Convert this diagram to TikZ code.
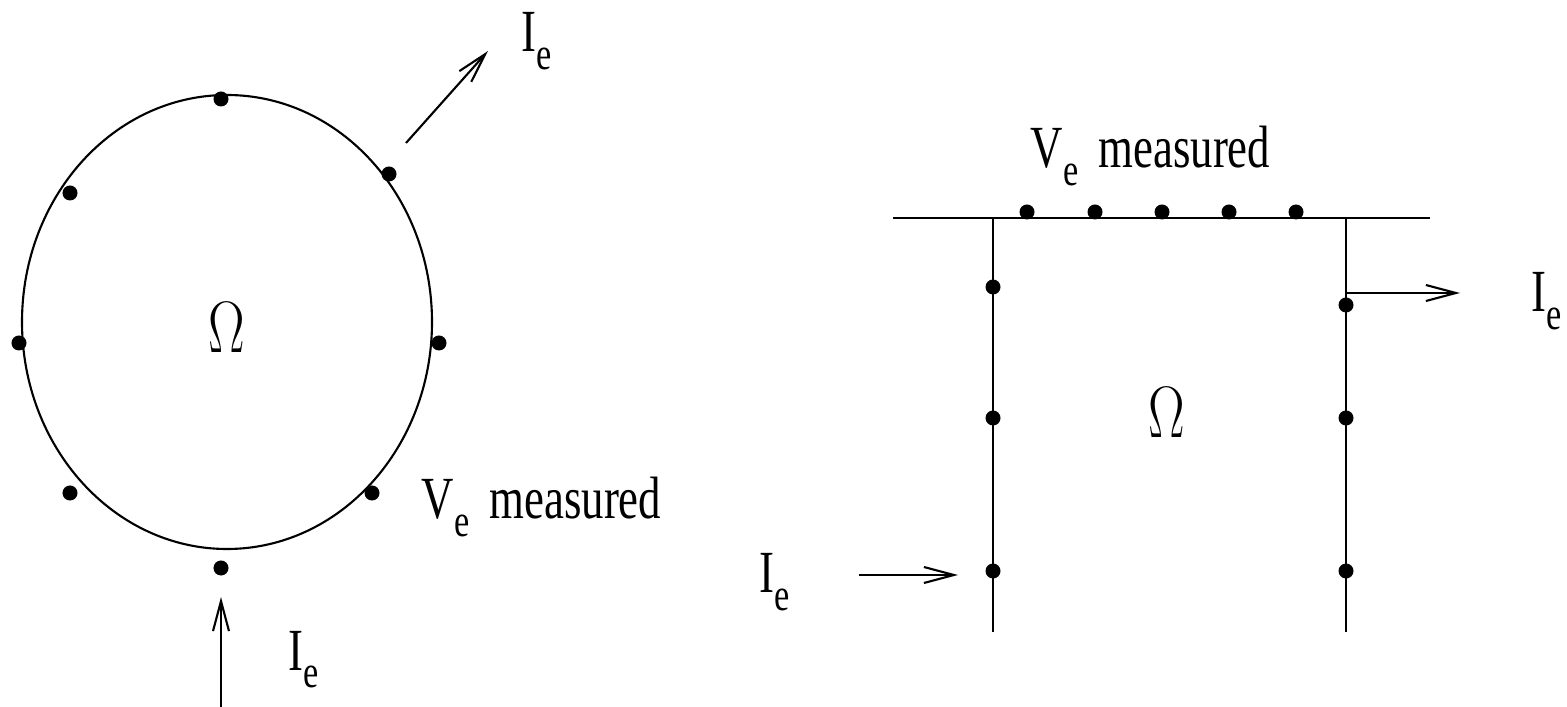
\documentclass[tikz,border=0pt]{standalone}
\usepackage{fontspec}
\setmainfont{Liberation Serif}
\usepackage{tikz}
\usetikzlibrary{positioning, arrows.meta}
\tikzset{
  elec/.style={circle, fill=black, inner sep=0pt, minimum size=0.15cm},
  wire/.style={line width=0.6pt},
  arr/.style={-{Straight Barb[length=0.3cm, width=0.16cm]}, line width=0.6pt},
  lbl/.style={anchor=base west, inner sep=0pt, font=\fontsize{17}{17}\selectfont},
  dom/.style={inner sep=0pt, font=\fontsize{20.5}{20.5}\selectfont},
}
\newcommand{\narrow}[1]{\scalebox{0.75}[1]{#1}}
\newcommand{\withsub}[2]{#1\lower5pt\hbox{\fontsize{13}{13}\selectfont #2}}

\begin{document}
\begin{tikzpicture}[x=0.01cm, y=-0.01cm]
  \useasboundingbox (0,0) rectangle (1567,707);

  % ---- left: elliptic domain ----
  \draw[wire] (227,322) ellipse [x radius=205, y radius=227];
  \node[dom] (omL) at (227,328) {\narrow{$\Omega$}};
  \node[elec] (l1) at (221,99)  {};
  \node[elec] (l2) at (389,174) {};
  \node[elec] (l3) at (70,193)  {};
  \node[elec] (l4) at (19,343)  {};
  \node[elec] (l5) at (439,343) {};
  \node[elec] (l6) at (70,493)  {};
  \node[elec] (l7) at (372,493) {};
  \node[elec] (l8) at (221,568) {};

  \coordinate (outA) at (406,143);
  \coordinate (outB) at (488,51);
  \draw[arr] (outA) -- (outB);
  \node[lbl] (ieTop) at (521,52) {\narrow{\withsub{I}{e}}};

  \coordinate (inA) at (221,707);
  \coordinate (inB) at (221,597);
  \draw[arr] (inA) -- (inB);
  \node[lbl] (ieBot) at (288,670) {\narrow{\withsub{I}{e}}};

  \node[lbl] (vL) at (421,519) {\narrow{\withsub{V}{e}\hspace{0.45em}measured}};

  % ---- right: half-space with electrodes ----
  \coordinate (topW) at (893,218);
  \coordinate (topE) at (1430,218);
  \coordinate (lwT) at (993,218);
  \coordinate (lwB) at (993,632);
  \coordinate (rwT) at (1346,218);
  \coordinate (rwB) at (1346,632);
  \draw[wire] (topW) -- (topE);
  \draw[wire] (lwT) -- (lwB);
  \draw[wire] (rwT) -- (rwB);
  \node[dom] (omR) at (1167,413) {\narrow{$\Omega$}};

  \foreach \x [count=\i] in {1027,1095,1162,1229,1296}
    \node[elec] (t\i) at (\x,212) {};
  \node[elec] (a1) at (993,287)  {};
  \node[elec] (a2) at (993,418)  {};
  \node[elec] (a3) at (993,571)  {};
  \node[elec] (b1) at (1346,305) {};
  \node[elec] (b2) at (1346,418) {};
  \node[elec] (b3) at (1346,571) {};

  \node[lbl] (vR) at (1030,168) {\narrow{\withsub{V}{e}\hspace{0.45em}measured}};

  \coordinate (injA) at (859,575);
  \coordinate (injB) at (958,575);
  \draw[arr] (injA) -- (injB);
  \node[lbl] (ieL) at (759,593) {\narrow{\withsub{I}{e}}};

  \coordinate (extA) at (1346,293);
  \coordinate (extB) at (1460,293);
  \draw[arr] (extA) -- (extB);
  \node[lbl] (ieR) at (1531,312) {\narrow{\withsub{I}{e}}};
\end{tikzpicture}
\end{document}
